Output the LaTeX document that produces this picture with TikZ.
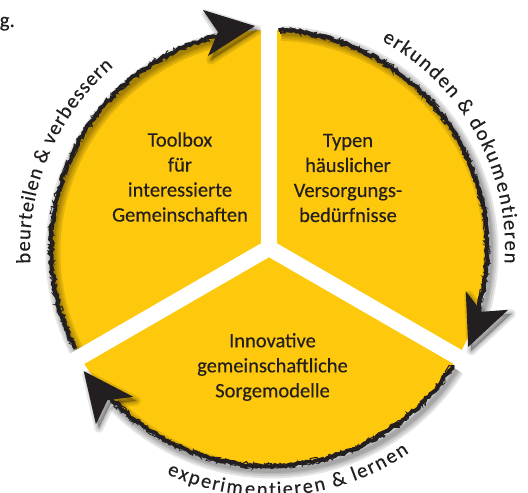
\documentclass[tikz,border=0pt]{standalone}
\usepackage{fontspec}
\setmainfont{Carlito}[FakeBold=0.3]
\usetikzlibrary{decorations.pathmorphing}
\definecolor{sunyellow}{RGB}{254,200,12}
\definecolor{ink}{RGB}{35,31,32}
\newcommand\arcfont{\normalfont\fontsize{20.5}{20.5}\selectfont}
\tikzset{
  gapband/.style={draw=white, line width=16pt},
  brush/.style={draw=ink, line width=3.8pt, decorate,
    decoration={random steps, segment length=3pt, amplitude=1.4pt}},
  bristle/.style={draw=ink, line width=1pt, decorate,
    decoration={random steps, segment length=2.5pt, amplitude=3pt}},
  fleck/.style={draw=ink, line width=0.7pt, decorate,
    decoration={random steps, segment length=1.8pt, amplitude=3.4pt}},
  headfill/.style={fill=ink},
  haze/.style={draw=black, opacity=0.1, line join=round},
  blocktext/.style={align=center, text=ink, inner sep=0pt,
    font=\fontsize{20.5}{25}\selectfont},
  rimglyph/.style={anchor=base, inner sep=0pt, text=ink, font=\arcfont},
}

% Lays a list of glyphs out along a circle round the origin and stores
% angle/tilt/glyph triples in #1.
% #2 angle of first glyph, #3 angle of last glyph,
% #4 tilt (-90: tops outward, 90: tops inward), #5 glyph list
\newlength\glyphwd
\newcommand\rimprepare[5]{%
  \gdef\runpos{0}\gdef\firstmid{-1}%
  \foreach \g in {#5}{%
    \settowidth\glyphwd{\arcfont\g}%
    \pgfmathparse{\runpos+0.5*\glyphwd}\xdef\lastmid{\pgfmathresult}%
    \pgfmathparse{\firstmid<0 ? \lastmid : \firstmid}\xdef\firstmid{\pgfmathresult}%
    \pgfmathparse{\runpos+\glyphwd}\xdef\runpos{\pgfmathresult}%
  }%
  \gdef\runpos{0}\gdef#1{}%
  \foreach \g in {#5}{%
    \settowidth\glyphwd{\arcfont\g}%
    \pgfmathsetmacro\glyphang{#2+(#3-(#2))*(\runpos+0.5*\glyphwd-\firstmid)/(\lastmid-\firstmid)}%
    \pgfmathsetmacro\glyphtilt{\glyphang+(#4)}%
    \ifx#1\empty
      \xdef#1{\glyphang/\glyphtilt/\unexpanded\expandafter{\g}}%
    \else
      \xdef#1{\unexpanded\expandafter{#1},\glyphang/\glyphtilt/\unexpanded\expandafter{\g}}%
    \fi
    \pgfmathparse{\runpos+\glyphwd}\xdef\runpos{\pgfmathresult}%
  }%
}
\AtBeginDocument{%
  \rimprepare\leftrim{182.4}{131.9}{-90}{b,e,u,r,t,e,i,l,e,n,~,\&,~,v,e,r,b,e,s,s,e,r,n}%
  \rimprepare\rightrim{60.2}{-2.4}{-90}{e,r,k,u,n,d,e,n,~,\&,~,d,o,k,u,m,e,n,t,i,e,r,e,n}%
  \rimprepare\bottomrim{-113.2}{-56.8}{90}{e,x,p,e,r,i,m,e,n,t,i,e,r,e,n,~,\&,~,l,e,r,n,e,n}%
}

\begin{document}
\begin{tikzpicture}[x=1pt,y=1pt]
\useasboundingbox (0,0) rectangle (528,493);
\pgfmathsetseed{7}

% word fragment in the corner
\node[anchor=base west, inner sep=0pt, text=ink, font=\fontsize{21}{21}\selectfont]
  (fragment) at (-0.5,466) {g.};

\begin{scope}[shift={(269,245)}]
  % yellow disc
  \fill[sunyellow] (0,0) circle[radius=218];

  % soft shadows of rims and arrow heads, cast down and to the right
  \foreach \turn in {0,120,240}{
    \begin{scope}[shift={(3,-4)}, rotate=\turn]
      \foreach \w in {15,11,7,4}
        \draw[haze, line width=\w pt]
          (207.5:219) arc[start angle=207.5, end angle=104, radius=219];
      \foreach \w in {9,5,2}
        \filldraw[haze, fill=black, line width=\w pt]
          (-14,222) -- (-66,238) -- (-51,216) -- (-61,192) -- cycle;
    \end{scope}
  }

  % white gaps between the three sectors
  \foreach \a in {90,210,330}
    \draw[gapband] (0,0) -- (\a:240);

  % brushed rims with arrow heads, running clockwise
  \foreach \turn in {0,120,240}{
    \begin{scope}[rotate=\turn]
      \draw[brush] (207.5:218) arc[start angle=207.5, end angle=102, radius=218];
      \draw[bristle] (207:217.5) arc[start angle=207, end angle=103, radius=217.5];
      \draw[fleck] (206.5:218.5) arc[start angle=206.5, end angle=104, radius=218.5];
      \fill[headfill] (-14,222) -- (-66,238) -- (-51,216) -- (-61,192) -- cycle;
    \end{scope}
  }

  % sector texts
  \node[blocktext] (toolbox) at (-89,71)
    {Toolbox\\für\\interessierte\\Gemeinschaften};
  \node[blocktext] (typen) at (79,70)
    {Typen\\häuslicher\\Versorgungs-\\bedürfnisse};
  \node[blocktext] (sorge) at (3.5,-119)
    {Innovative\\gemeinschaftliche\\Sorgemodelle};

  % texts along the rim
  \foreach \a/\t/\g in \leftrim
    \node[rimglyph, rotate=\t] at (\a:239) {\g};
  \foreach \a/\t/\g in \rightrim
    \node[rimglyph, rotate=\t] at (\a:236) {\g};
  \foreach \a/\t/\g in \bottomrim
    \node[rimglyph, rotate=\t] at (\a:248) {\g};
\end{scope}
\end{tikzpicture}
\end{document}
